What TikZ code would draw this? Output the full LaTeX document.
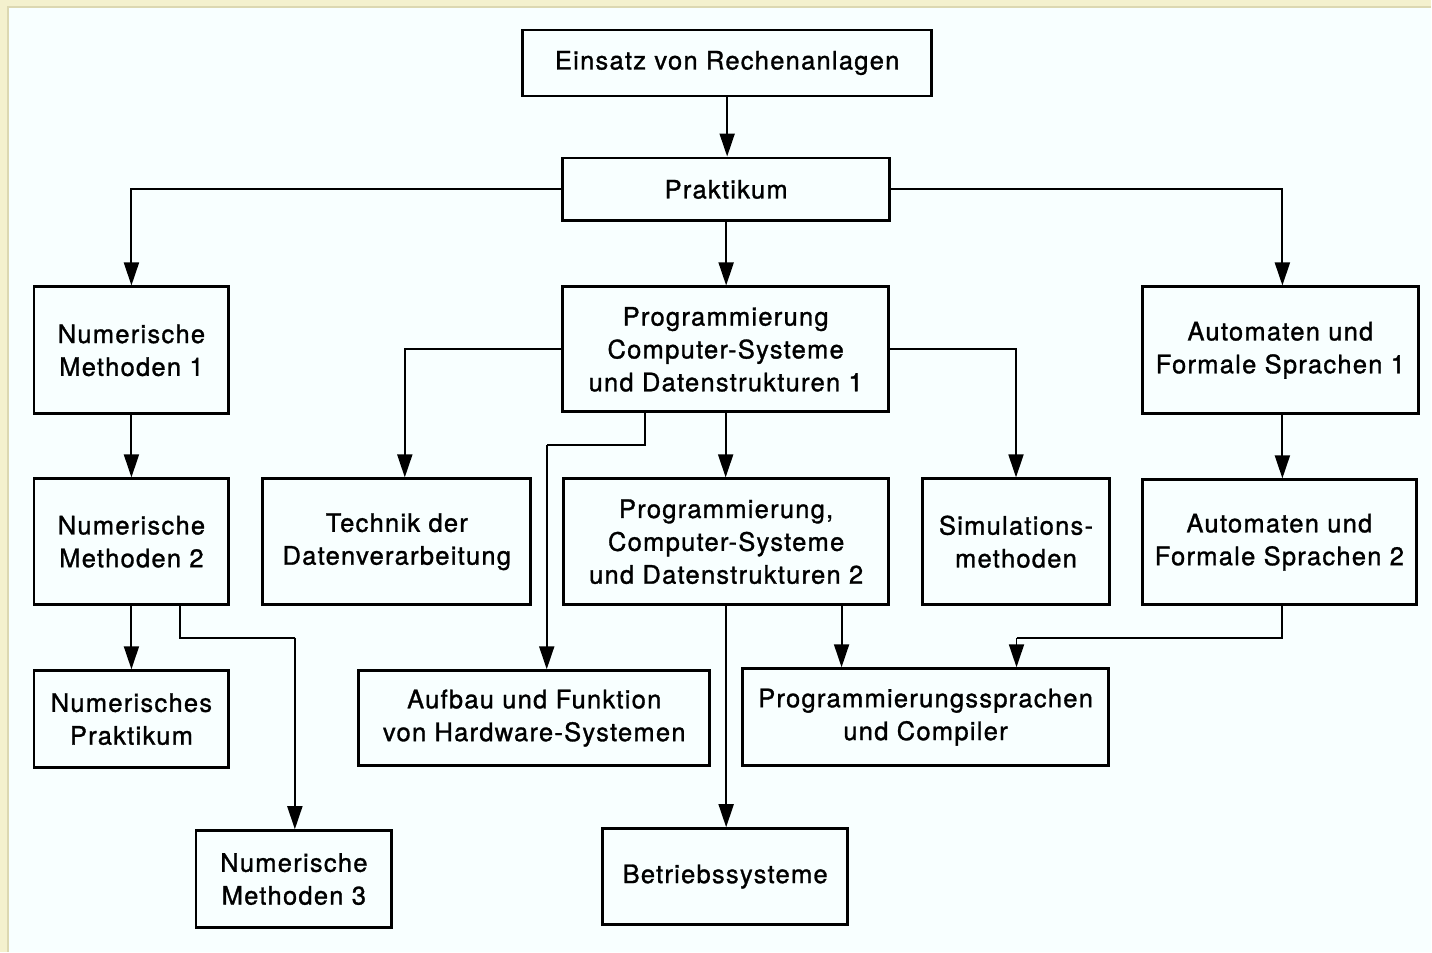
\documentclass[tikz,border=0pt]{standalone}
\usepackage{fontspec}
\setmainfont{TeX Gyre Heros}[LetterSpace=5,FakeBold=1.2]
\usetikzlibrary{arrows.meta}

\definecolor{papier}{HTML}{F8FFFF}
\definecolor{rand}{HTML}{F4F1CE}
\definecolor{randschatten}{HTML}{DCD8B2}

\tikzset{
  kasten/.style={draw, line width=1.6pt, align=center, inner sep=0pt,
    font=\fontsize{14.5}{18.7}\selectfont},
  pfeil/.style={line width=1.1pt, -{Triangle[width=0.3cm,length=0.46cm]}},
  linie/.style={line width=1.1pt}
}

\begin{document}
\begin{tikzpicture}[x=0.02cm,y=-0.02cm]
% Blatt mit Rand oben und links
\fill[rand] (0,0) rectangle (1432,952);
\fill[papier] (8,7) rectangle (1432,952);
\draw[randschatten, line width=0.8pt] (8,952) -- (8,7) -- (1432,7);
\useasboundingbox (0,0) rectangle (1432,952);

% Kaesten
\node[kasten, minimum width=8.18cm, minimum height=1.32cm] (einsatz) at (727.5,63) {Einsatz von Rechenanlagen};
\node[kasten, minimum width=6.54cm, minimum height=1.26cm] (prakt) at (726.5,189.5) {Praktikum};

\node[kasten, minimum width=3.9cm, minimum height=2.54cm] (nm1) at (131.5,350.5) {Numerische\\Methoden 1};
\node[kasten, minimum width=6.52cm, minimum height=2.5cm] (pcsd1) at (726,349.5) {Programmierung\\Computer-Systeme\\und Datenstrukturen 1};
\node[kasten, minimum width=5.52cm, minimum height=2.54cm] (afs1) at (1281,350.5) {Automaten und\\Formale Sprachen 1};

\node[kasten, minimum width=3.9cm, minimum height=2.52cm] (nm2) at (131.5,542) {Numerische\\Methoden 2};
\node[kasten, minimum width=5.36cm, minimum height=2.52cm] (tdv) at (397,542) {Technik der\\Datenverarbeitung};
\node[kasten, minimum width=6.5cm, minimum height=2.52cm] (pcsd2) at (726.5,542) {Programmierung,\\Computer-Systeme\\und Datenstrukturen 2};
\node[kasten, minimum width=3.74cm, minimum height=2.52cm] (sim) at (1016.5,542) {Simulations-\\methoden};
\node[kasten, minimum width=5.48cm, minimum height=2.5cm] (afs2) at (1280,542.5) {Automaten und\\Formale Sprachen 2};

\node[kasten, minimum width=3.9cm, minimum height=1.94cm] (np) at (131.5,719.5) {Numerisches\\Praktikum};
\node[kasten, minimum width=7.02cm, minimum height=1.9cm] (hw) at (534.5,718.5) {Aufbau und Funktion\\von Hardware-Systemen};
\node[kasten, minimum width=7.32cm, minimum height=1.94cm] (psc) at (926,717.5) {Programmierungssprachen\\und Compiler};

\node[kasten, minimum width=3.92cm, minimum height=1.94cm] (nm3) at (294,879.5) {Numerische\\Methoden 3};
\node[kasten, minimum width=4.9cm, minimum height=1.92cm] (bs) at (725.5,877) {Betriebssysteme};

% Knickpunkte
\coordinate (hwknick) at (547,445);
\coordinate (nmknick) at (295,638);
\coordinate (psknick) at (1017,638);

%------------------------------------------------
\draw[pfeil] (einsatz.south) -- (einsatz.south |- prakt.north);
\draw[pfeil] (prakt.west) -| (nm1.north);
\draw[pfeil] (prakt.east) -| ([xshift=0.04cm]afs1.north);
\draw[pfeil] (prakt.south) -- (prakt.south |- pcsd1.north);

\draw[pfeil] (pcsd1.west) -| ([xshift=0.16cm]tdv.north);
\draw[pfeil] (pcsd1.east) -| (sim.north);
\draw[pfeil] (pcsd1.south) -- (pcsd1.south |- pcsd2.north);
\draw[linie] ([xshift=-1.62cm]pcsd1.south) |- (hwknick);
\draw[pfeil] (hwknick) -- (hwknick |- hw.north);

\draw[pfeil] (nm1.south) -- (nm2.north);
\draw[pfeil] ([xshift=0.04cm]afs1.south) -- ([xshift=0.04cm]afs1.south |- afs2.north);

\draw[pfeil] (nm2.south) -- (np.north);
\draw[linie] ([xshift=0.97cm]nm2.south) |- (nmknick);
\draw[pfeil] (nmknick) -- (nmknick |- nm3.north);

\draw[pfeil] (pcsd2.south) -- (pcsd2.south |- bs.north);
\draw[pfeil] ([xshift=2.31cm]pcsd2.south) -- ([xshift=2.31cm]pcsd2.south |- psc.north);
\draw[linie] ([xshift=0.06cm]afs2.south) |- (psknick);
\draw[pfeil] (psknick) -- (psknick |- psc.north);
\end{tikzpicture}
\end{document}
